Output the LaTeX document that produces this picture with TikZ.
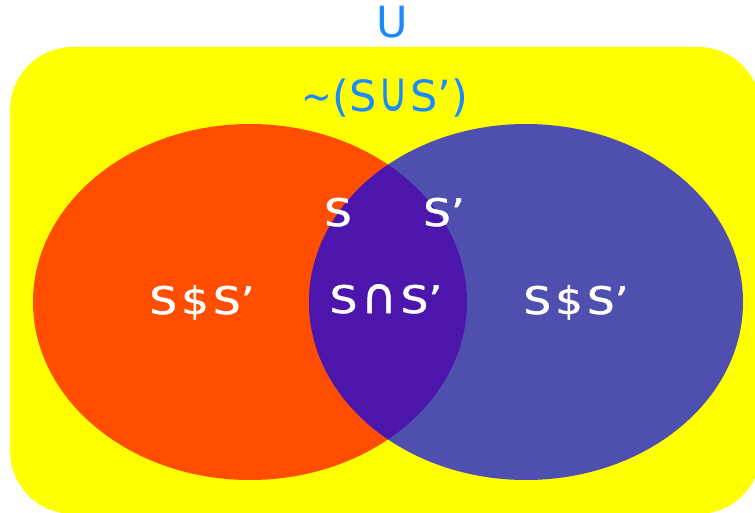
\documentclass[tikz,border=0pt]{standalone}
\usepackage{fontspec}
\setmainfont{DejaVu Sans}
\newfontfamily\wfont[FakeStretch=1.15,FakeBold=1.2]{DejaVu Sans}
\definecolor{uyellow}{RGB}{255,255,0}
\definecolor{sred}{RGB}{255,78,0}
\definecolor{sblue}{RGB}{79,79,175}
\definecolor{spurple}{RGB}{76,22,173}
\definecolor{txtblue}{RGB}{28,138,255}
\tikzset{
  wlabel/.style={text=white, font=\wfont\fontsize{38}{40}\selectfont, inner sep=0pt},
  blabel/.style={text=txtblue, font=\fontsize{43}{45}\selectfont, inner sep=0pt},
}
\newcommand{\gp}{\hspace{4pt}}
\newcommand{\capint}{\scalebox{1.1}[1.3]{∩}}
\newcommand{\capuni}{\scalebox{0.95}[1.3]{∪}}
\begin{document}
\begin{tikzpicture}[x=1pt,y=-1pt]
\useasboundingbox (0,0) rectangle (755,513);
\fill[uyellow, rounded corners=63pt] (10,47) rectangle (761,514);
\fill[sred] (250,302) ellipse [x radius=217, y radius=178];
\fill[sblue] (526,302) ellipse [x radius=217, y radius=178];
\begin{scope}
  \clip (250,302) ellipse [x radius=217, y radius=178];
  \fill[spurple] (526,302) ellipse [x radius=217, y radius=178];
\end{scope}
\node[blabel, anchor=base] (u) at (392,38) {U};
\node[blabel, anchor=base] (comp) at (385,112) {\scalebox{0.85}[1]{\~{}}(S\hspace{2pt}\capuni\hspace{2pt}S’)};
\node[wlabel, anchor=base] (s) at (338,226) {S};
\node[wlabel, anchor=base] (sp) at (444,226) {S’};
\node[wlabel, anchor=base] (inter) at (386,313) {S\gp\capint\gp S’};
\node[wlabel, anchor=base] (left) at (202,314) {S\gp\$\gp S’};
\node[wlabel, anchor=base] (right) at (576,314) {S\gp\$\gp S’};
\end{tikzpicture}
\end{document}
